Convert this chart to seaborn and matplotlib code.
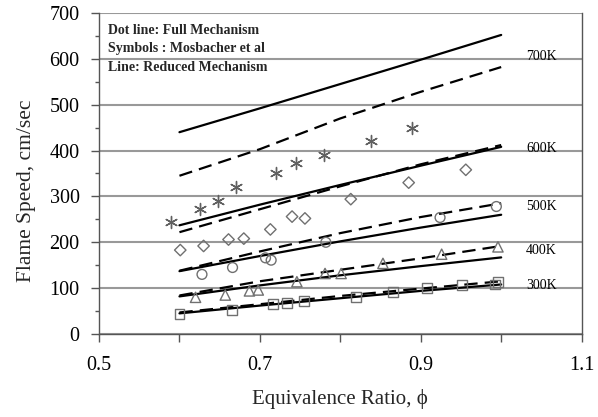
import matplotlib
matplotlib.use("Agg")
import matplotlib.pyplot as plt
import seaborn as sns
import pandas as pd
from matplotlib.ticker import MultipleLocator

sns.set_theme(style="white")
plt.rcParams['font.family'] = ['Liberation Serif', 'DejaVu Serif']

# ---- data ----
phi_line = [0.6, 0.7, 0.8, 0.9, 1.0]
temps = ["700K", "600K", "500K", "400K", "300K"]
reduced = {
    "700K": [440, 492, 545, 598, 652],
    "600K": [237, 282, 325, 367, 408],
    "500K": [137, 170, 202, 232, 260],
    "400K": [82, 106, 128, 148, 167],
    "300K": [45, 62, 78, 94, 108],
}
full = {
    "700K": [345, 403, 470, 528, 582],
    "600K": [222, 272, 322, 370, 412],
    "500K": [138, 180, 220, 255, 285],
    "400K": [84, 115, 140, 165, 192],
    "300K": [47, 65, 83, 99, 115],
}
label_y = [606, 405, 277, 181, 105]

ast_phi = [0.59, 0.625, 0.648, 0.67, 0.72, 0.745, 0.78, 0.838, 0.889]
ast_s = [245, 273, 290, 320, 352, 372, 390, 420, 449]
dia_phi = [0.601, 0.630, 0.661, 0.680, 0.713, 0.740, 0.756, 0.813, 0.885, 0.956]
dia_s = [183, 192, 206, 208, 228, 256, 252, 294, 330, 358]
cir_phi = [0.628, 0.666, 0.707, 0.714, 0.782, 0.924, 0.994]
cir_s = [130, 145, 166, 161, 200, 254, 278]
tri_phi = [0.620, 0.657, 0.687, 0.698, 0.746, 0.781, 0.801, 0.853, 0.926, 0.996]
tri_s = [80, 85, 94, 96, 114, 132, 132, 154, 174, 190]
sq_phi = [0.600, 0.665, 0.716, 0.734, 0.755, 0.819, 0.866, 0.908, 0.951, 0.992, 0.996]
sq_s = [44, 53, 65, 67, 72, 81, 92, 100, 107, 108, 114]

notes = ["Dot line: Full Mechanism", "Symbols : Mosbacher et al", "Line: Reduced Mechanism"]

fig = plt.figure(figsize=(5.98, 4.17), dpi=100)
ax = fig.add_axes([0.1656, 0.199, 0.807, 0.770])

for t in temps:
    d1 = pd.DataFrame({"phi": phi_line, "S": reduced[t]})
    sns.lineplot(data=d1, x="phi", y="S", ax=ax, color="black", lw=1.6, zorder=4)
    d2 = pd.DataFrame({"phi": phi_line, "S": full[t]})
    sns.lineplot(data=d2, x="phi", y="S", ax=ax, color="black", lw=1.6,
                 dashes=False, linestyle=(0, (6, 3.2)), zorder=4)

sym = [
    (ast_phi, ast_s, (6, 2, 0), 75),
    (dia_phi, dia_s, "D", 34),
    (cir_phi, cir_s, "o", 50),
    (tri_phi, tri_s, "^", 55),
    (sq_phi, sq_s, "s", 50),
]
for xs, ys, m, s in sym:
    d = pd.DataFrame({"phi": xs, "S": ys})
    if m == (6, 2, 0):
        sns.scatterplot(data=d, x="phi", y="S", ax=ax, marker=m, s=s,
                        color="#606060", linewidth=1.0, zorder=5)
    else:
        sns.scatterplot(data=d, x="phi", y="S", ax=ax, marker=m, s=s,
                        facecolors="none", edgecolor="#707070", linewidth=1.0, zorder=5)

for t, yv in zip(temps, label_y):
    ax.text(1.031, yv, t, fontsize=10, va="center", ha="left", color="black", zorder=6)

ax.set_xlim(0.5, 1.1)
ax.set_ylim(0, 700)
ax.yaxis.set_major_locator(MultipleLocator(100))
ax.yaxis.set_minor_locator(MultipleLocator(50))
ax.set_xticks([0.5, 0.6, 0.7, 0.8, 0.9, 1.0, 1.1])
ax.set_xticklabels(["0.5", "", "0.7", "", "0.9", "", "1.1"])
ax.tick_params(axis="both", which="major", direction="out", length=6, width=1,
               colors="#555555", labelcolor="black", labelsize=14.5, bottom=True, left=True)
ax.tick_params(axis="y", which="minor", direction="out", length=3, width=1,
               colors="#555555", left=True)
ax.tick_params(axis="x", pad=10)
ax.tick_params(axis="y", pad=8)
ax.yaxis.grid(True, color="#999999", lw=1.5)
ax.set_axisbelow(True)
ax.spines["top"].set_visible(False)
for sp in ["left", "bottom", "right"]:
    ax.spines[sp].set_color("#555555")
    ax.spines[sp].set_linewidth(1.0)

ax.set_xlabel("Equivalence Ratio, \u03d5", fontsize=15, labelpad=10)
ax.set_ylabel("Flame Speed, cm/sec", fontsize=15.5, labelpad=6)
ax.yaxis.set_label_coords(-0.13, 0.445)

for i, n in enumerate(notes):
    ax.text(0.511, 662 - i * 40, n, fontsize=10, fontweight="bold", va="center", ha="left")

fig.savefig("out.png", dpi=100)
